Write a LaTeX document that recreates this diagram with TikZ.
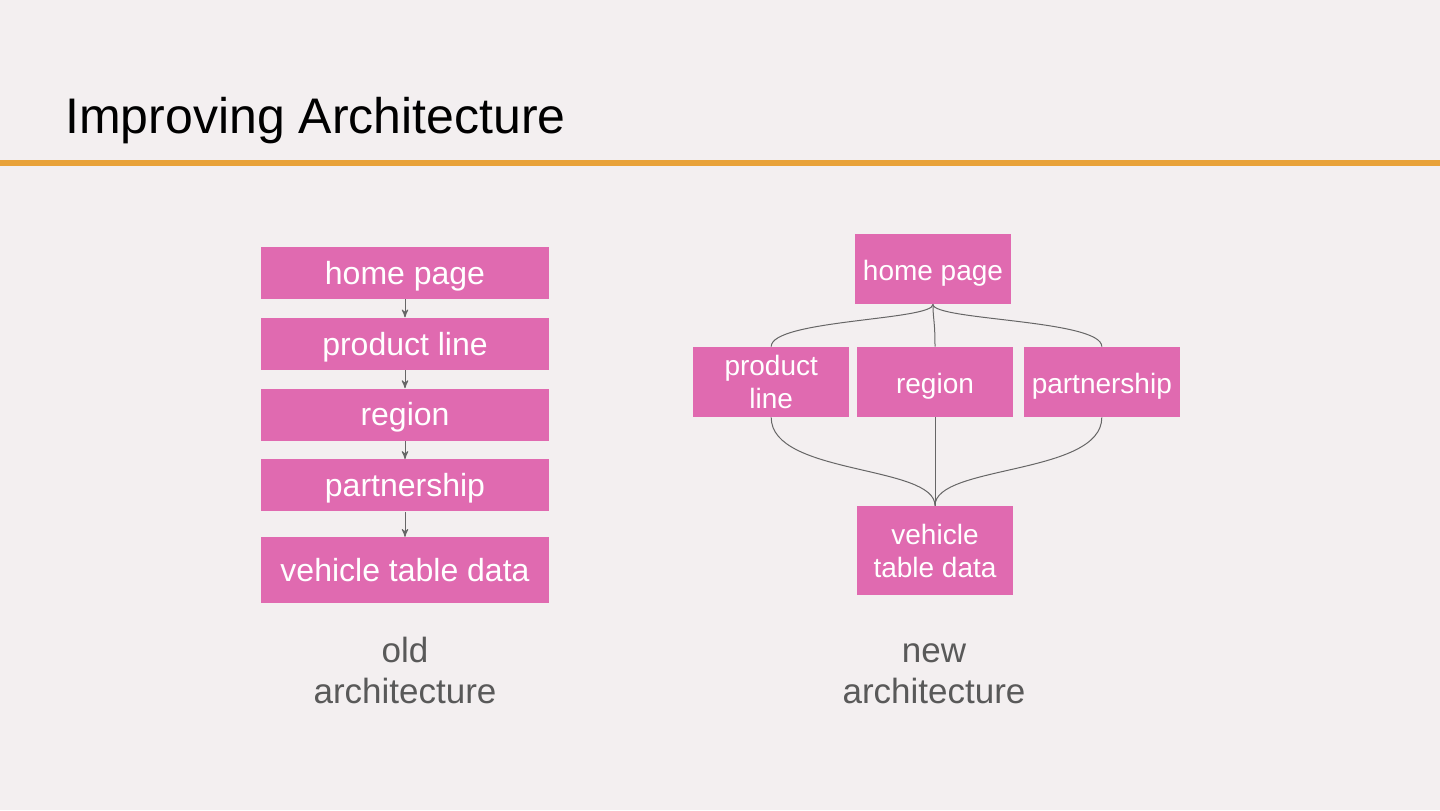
\documentclass[tikz,border=0pt]{standalone}
\usepackage{fontspec}
\setmainfont{Liberation Sans}
\usetikzlibrary{positioning,arrows}
\definecolor{slidebg}{HTML}{F3EFF0}
\definecolor{boxpink}{HTML}{E06AB0}
\definecolor{rulecolor}{HTML}{E8A23A}
\definecolor{captiongray}{HTML}{595959}
\definecolor{linkgray}{HTML}{666666}
\tikzset{
  >=stealth',
  oldbox/.style={rectangle, fill=boxpink, text=white, minimum width=144bp,
                 minimum height=26bp, inner sep=0pt, text height=11.2bp, text depth=0pt,
                 font=\fontsize{16bp}{19bp}\selectfont},
  newbox/.style={rectangle, fill=boxpink, text=white, minimum width=78bp,
                 minimum height=35bp, inner sep=0pt, align=center,
                 font=\fontsize{14bp}{16.5bp}\selectfont},
  oneline/.style={text height=11bp, text depth=0pt},
  link/.style={draw=linkgray, line width=0.5bp},
  caption/.style={text=captiongray, inner sep=0pt, align=center,
                  font=\fontsize{17.5bp}{20.5bp}\selectfont}
}

\begin{document}
\begin{tikzpicture}[x=0.5bp,y=-0.5bp]
\useasboundingbox (0,0) rectangle (1440,810);
\fill[slidebg] (0,0) rectangle (1440,810);
\node[anchor=base west, inner sep=0pt, font=\fontsize{25bp}{30bp}\selectfont] (title) at (65,133) {Improving Architecture};
\draw[rulecolor, line width=3bp] (0,163) -- (1440,163);

% old architecture
\node[oldbox] (ohome) at (405,273) {home page};
\node[oldbox, below=9bp of ohome] (oprod) {product line};
\node[oldbox, below=9bp of oprod] (oregion) {region};
\node[oldbox, below=9bp of oregion] (opart) {partnership};
\node[oldbox, below=12.5bp of opart, minimum height=33bp] (oveh) {vehicle table data};
\foreach \a/\b in {ohome/oprod, oprod/oregion, oregion/opart, opart/oveh}
  \draw[link,->] (\a) -- (\b);
\node[caption, anchor=base] (ocap) at (405,703) {old\\architecture};

% new architecture
\node[newbox, oneline] (nregion) at (935,382) {region};
\node[newbox, left=3.5bp of nregion] (nprod) {product\\line};
\node[newbox, oneline, right=5bp of nregion] (npart) {partnership};
\node[newbox, oneline] (nhome) at (933,269) {home page};
\node[newbox, minimum height=44.5bp] (nveh) at (935,550.5) {vehicle\\table data};
\foreach \c in {nprod, nregion, npart}
  \draw[link] (nhome.south) .. controls +(0,16) and +(0,-27) .. (\c.north);
\draw[link] (nprod.south) .. controls +(0,58) and +(0,-41) .. (nveh.north);
\draw[link] (npart.south) .. controls +(0,58) and +(0,-41) .. (nveh.north);
\draw[link] (nregion) -- (nveh);
\node[caption, anchor=base] (ncap) at (934,703) {new\\architecture};
\end{tikzpicture}
\end{document}
